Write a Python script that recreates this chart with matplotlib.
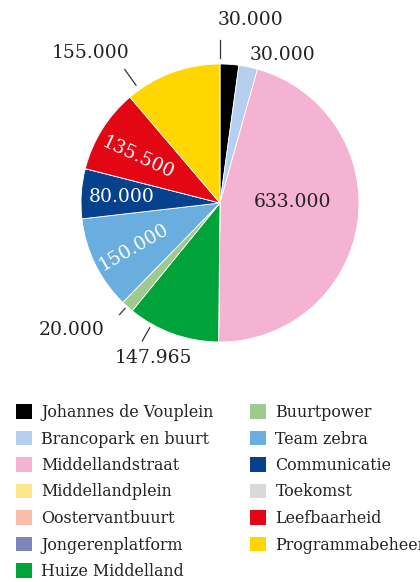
import matplotlib
matplotlib.use("Agg")
import matplotlib.pyplot as plt
from matplotlib.patches import Patch
import numpy as np

plt.rcParams['font.family'] = ['DejaVu Serif']

categories = ["Johannes de Vouplein", "Brancopark en buurt", "Middellandstraat",
              "Middellandplein", "Oostervantbuurt", "Jongerenplatform",
              "Huize Middelland", "Buurtpower", "Team zebra", "Communicatie",
              "Toekomst", "Leefbaarheid", "Programmabeheer"]
values = [30000, 30000, 633000, 0, 0, 0, 147965, 20000, 150000, 80000, 0, 135500, 155000]
value_labels = ["30.000", "30.000", "633.000", "", "", "", "147.965", "20.000",
                "150.000", "80.000", "", "135.500", "155.000"]
colors = ["#000000", "#b5d0ef", "#f4b3d3", "#fee68c", "#f8bea9", "#7e87bb",
          "#00a23a", "#9dcb8d", "#6aaddf", "#05418d", "#d9d9d9", "#e30613", "#ffd600"]

# label layout: (x, y, text colour, rotation) in pie data coords
label_layout = {
    0: (0.216, 1.317, "#222222", 0),
    1: (0.453, 1.065, "#222222", 0),
    2: (0.518, 0.007, "#222222", 0),
    6: (-0.482, -1.115, "#222222", 0),
    7: (-1.065, -0.914, "#222222", 0),
    8: (-0.619, -0.317, "white", 30),
    9: (-0.705, 0.043, "white", 0),
    11: (-0.59, 0.324, "white", -25),
    12: (-0.928, 1.079, "#222222", 0),
}
# leader lines: (angle clockwise from top in degrees, r_inner, r_outer)
leaders = {
    0: (0.0, 1.04, 1.17),
    12: (324.5, 1.04, 1.18),
    7: (222.0, 1.02, 1.08),
    6: (209.4, 1.03, 1.14),
}

fig = plt.figure(figsize=(4.2, 5.82), dpi=100)
cx, cy, r = 220, 203, 139
ax = fig.add_axes([(cx - r) / 420, 1 - (cy + r) / 582, 2 * r / 420, 2 * r / 582])
wedges, _ = ax.pie(values, colors=colors, startangle=90, counterclock=False, radius=1,
                   wedgeprops=dict(edgecolor="white", linewidth=0.6))
ax.set_xlim(-1, 1)
ax.set_ylim(-1, 1)
ax.set_aspect("equal")
ax.axis("off")

for i, (x, y, c, rot) in label_layout.items():
    ax.text(x, y, value_labels[i], ha="center", va="center", color=c, rotation=rot,
            fontsize=13.5, clip_on=False)

for i, (a, r1, r2) in leaders.items():
    t = np.deg2rad(a)
    ax.plot([r1 * np.sin(t), r2 * np.sin(t)], [r1 * np.cos(t), r2 * np.cos(t)],
            color="#333333", lw=0.9, clip_on=False)

fs = 11.4
handles = [Patch(facecolor=c, edgecolor="none") for c in colors]
common = dict(frameon=False, loc="upper left", borderpad=0, borderaxespad=0,
              handlelength=1.01, handleheight=1.01, handletextpad=0.6,
              labelspacing=0.6, fontsize=fs)
leg1 = fig.legend(handles[:7], categories[:7], bbox_to_anchor=(16 / 420, 1 - 404 / 582), **common)
leg2 = fig.legend(handles[7:], categories[7:], bbox_to_anchor=(250 / 420, 1 - 404 / 582), **common)
for leg in (leg1, leg2):
    for t in leg.get_texts():
        t.set_color("#222222")

fig.savefig("out.png", dpi=100)
